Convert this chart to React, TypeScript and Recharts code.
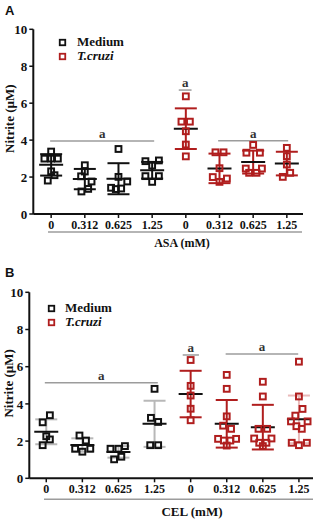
import React from 'react';
import { ScatterChart, Scatter, XAxis, YAxis, ErrorBar, ReferenceLine, Legend } from 'recharts';

const doseLabels = ['0', '0.312', '0.625', '1.25', '0', '0.312', '0.625', '1.25'];
const groupIdx = [0, 1, 2, 3, 4, 5, 6, 7];
const yTicks = [0, 2, 4, 6, 8, 10];

// ---- Panel A (ASA) ----
const aMediumValues = [
  [3.38, 3.0, 3.0, 3.0, 2.31, 2.1, 1.81],
  [2.64, 2.3, 2.04, 1.76, 1.36, 1.22],
  [3.52, 2.01, 1.76, 1.42, 1.35, 1.38],
  [2.86, 2.9, 2.62, 2.05, 2.05, 1.74],
];
const aMediumJitter = [
  [0, -1, 0, 1, 0, 0.5, -0.5],
  [0, 0, -0.55, 1, 0.5, -0.5],
  [0, 0, 1.3, -1.1, -0.4, 0.4],
  [-1, 1, 0, -1, 1, 0],
];
const aTcruziValues = [
  [6.37, 5.0, 5.0, 4.48, 3.76, 3.12],
  [3.34, 3.34, 2.48, 2.0, 1.92, 1.74],
  [3.74, 3.32, 3.32, 2.46, 2.46, 2.23, 2.23],
  [3.58, 3.13, 2.68, 2.23, 2.01],
];
const aTcruziJitter = [
  [0, -0.65, 0.6, 0, 0, 0],
  [-0.6, 0.6, 0, -1, 1.1, 0],
  [0, -1, 1, -1.1, 1.3, -0.6, 0.5],
  [0, 0, 0, 0.5, -0.6],
];
const aMeans = [2.66, 1.89, 1.91, 2.37, 4.62, 2.47, 2.81, 2.73];
const aSD = [0.58, 0.55, 0.84, 0.45, 1.1, 0.8, 0.62, 0.64];
const aBrackets = [
  { from: -0.03, to: 3.06, y: 3.95 },
  { from: 3.79, to: 4.17, y: 6.71 },
  { from: 4.96, to: 7.04, y: 3.97 },
];

// ---- Panel B (CEL) ----
const bMediumValues = [
  [3.39, 3.01, 2.26, 2.09, 1.78],
  [2.3, 2.03, 1.59, 1.59, 1.43],
  [1.59, 1.59, 1.73, 1.02, 1.16],
  [4.81, 3.25, 3.03, 1.78, 1.78],
];
const bMediumJitter = [
  [0.5, -0.5, 0, 0.5, -0.5],
  [-0.4, 0.5, -1, 1.1, 0],
  [-1.1, 0, 0.9, -0.6, 0.4],
  [0, -0.5, 0.5, -0.6, 0.5],
];
const bTcruziValues = [
  [6.36, 4.97, 4.45, 3.74, 3.12],
  [5.56, 4.81, 3.33, 2.83, 2.66, 2.12, 2.03, 2.03, 2.12, 1.76],
  [5.19, 4.4, 2.66, 2.66, 2.14, 2.14, 1.91, 1.91, 1.73],
  [6.27, 4.4, 3.73, 3.37, 3.06, 3.06, 2.8, 2.66, 1.91, 1.78, 1.91],
];
const bTcruziJitter = [
  [0, 0, 0, 0, 0],
  [0, 0, 0, -0.5, 0.6, -1.2, -0.4, 0.5, 1.3, 0],
  [0, 0, -0.6, 0.6, -1.2, 1.2, -0.5, 0.5, 0],
  [0, 0, 0.5, -0.5, -1.1, 1.2, -0.35, 0.4, -1, 0, 1.1],
];
const bMeans = [2.5, 1.79, 1.42, 2.93, 4.53, 2.93, 2.75, 3.17];
const bSD = [0.67, 0.36, 0.31, 1.24, 1.25, 1.28, 1.2, 1.28];
const bBrackets = [
  { from: -0.04, to: 3.09, y: 5.14 },
  { from: 3.78, to: 4.23, y: 6.63 },
  { from: 4.97, to: 6.98, y: 6.68 },
];

const legendItems = [
  { label: 'Medium', color: '#111111', italic: false },
  { label: 'T.cruzi', color: '#b01e1e', italic: true },
];

const SERIF = '"Liberation Serif", "Times New Roman", serif';
const BLACK = '#111111';
const RED = '#b01e1e';
const GRAY_BAR = '#b8b8b8';
const PINK_BAR = '#e9b9b9';
const BRACKET = '#9c9c9c';
const JITTER_UNIT = 0.2;

function buildPoints(values: number[][], jitter: number[][], firstGroup: number) {
  const out: { x: number; y: number }[] = [];
  values.forEach((grp, gi) => {
    grp.forEach((v, pi) => {
      out.push({ x: firstGroup + gi + jitter[gi][pi] * JITTER_UNIT, y: v });
    });
  });
  return out;
}

function buildMeans(means: number[], sds: number[], idxs: number[]) {
  return idxs.map((i) => ({ x: i, y: means[i], sd: sds[i] }));
}

const squareShape = (color: string) => (props: any) => {
  const { cx, cy } = props;
  if (cx == null || cy == null) return <g />;
  return (
    <rect x={cx - 2.9} y={cy - 2.9} width={5.8} height={5.8} fill="none" stroke={color} strokeWidth={2} />
  );
};

const meanShape = (props: any) => {
  const { cx, cy } = props;
  if (cx == null || cy == null) return <g />;
  return <line x1={cx - 12} x2={cx + 12} y1={cy} y2={cy} stroke={BLACK} strokeWidth={2} />;
};

type MeanGroup = { idxs: number[]; color: string };

type PanelCfg = {
  top: number;
  letter: string;
  margin: { top: number; right: number; bottom: number; left: number };
  yAxisWidth: number;
  xDomain: [number, number];
  title: string;
  titleSize: number;
  titleX: number;
  titleDy: number;
  lineDy: number;
  lineX1: number;
  lineX2: number;
  yLabelX: number;
  yLabelShift: number;
  legendLeft: number;
  legendTop: number;
  legendGap: number;
  medium: { x: number; y: number }[];
  tcruzi: { x: number; y: number }[];
  means: number[];
  sds: number[];
  meanGroups: MeanGroup[];
  brackets: { from: number; to: number; y: number }[];
};

function Panel({ cfg }: { cfg: PanelCfg }) {
  const renderLegend = () => (
    <div style={{ fontFamily: SERIF, fontWeight: 'bold', fontSize: 13, color: BLACK }}>
      {legendItems.map((it) => (
        <div key={it.label} style={{ display: 'flex', alignItems: 'center', height: 14 }}>
          <svg width={13} height={14} style={{ display: 'block' }}>
            <rect x={3.75} y={4.75} width={5.5} height={5.5} fill="none" stroke={it.color} strokeWidth={1.8} />
          </svg>
          <span style={{ marginLeft: cfg.legendGap, fontStyle: it.italic ? 'italic' : 'normal', lineHeight: '14px' }}>
            {it.label}
          </span>
        </div>
      ))}
    </div>
  );

  const titleContent = (p: any) => {
    const vb = p.viewBox || {};
    const y0 = vb.y ?? 0;
    return (
      <g>
        <line x1={cfg.lineX1} x2={cfg.lineX2} y1={y0 + cfg.lineDy} y2={y0 + cfg.lineDy} stroke={BRACKET} strokeWidth={1.5} />
        <text
          x={cfg.titleX}
          y={y0 + cfg.titleDy}
          textAnchor="middle"
          dominantBaseline="central"
          fontFamily={SERIF}
          fontWeight="bold"
          fontSize={cfg.titleSize}
          fill={BLACK}
        >
          {cfg.title}
        </text>
      </g>
    );
  };

  const yLabelContent = (p: any) => {
    const vb = p.viewBox || {};
    const cy = (vb.y ?? 0) + (vb.height ?? 0) / 2 + cfg.yLabelShift;
    return (
      <text
        x={cfg.yLabelX}
        y={cy}
        transform={`rotate(-90, ${cfg.yLabelX}, ${cy})`}
        textAnchor="middle"
        dominantBaseline="central"
        fontFamily={SERIF}
        fontWeight="bold"
        fontSize={13}
        fill={BLACK}
      >
        Nitrite (µM)
      </text>
    );
  };

  return (
    <div style={{ position: 'absolute', left: 0, top: cfg.top, width: 322, height: 260 }}>
      <div
        style={{
          position: 'absolute',
          left: 5,
          top: 3.5,
          fontFamily: '"Liberation Sans", Arial, sans-serif',
          fontWeight: 'bold',
          fontSize: 13,
          lineHeight: '13px',
          color: BLACK,
          zIndex: 2,
        }}
      >
        {cfg.letter}
      </div>
      <ScatterChart width={322} height={260} margin={cfg.margin}>
        <XAxis
          type="number"
          dataKey="x"
          domain={cfg.xDomain}
          ticks={groupIdx}
          interval={0}
          allowDataOverflow
          tickFormatter={(v: number) => doseLabels[v]}
          tickSize={4}
          tick={{ fontFamily: SERIF, fontWeight: 'bold', fontSize: 12, fill: BLACK }}
          axisLine={{ stroke: BLACK, strokeWidth: 2 }}
          tickLine={{ stroke: BLACK, strokeWidth: 1.5 }}
          height={40}
          label={{ content: titleContent }}
        />
        <YAxis
          type="number"
          dataKey="y"
          domain={[0, 10]}
          ticks={yTicks}
          interval={0}
          allowDataOverflow
          width={cfg.yAxisWidth}
          tickSize={4}
          tick={{ fontFamily: SERIF, fontWeight: 'bold', fontSize: 13, fill: BLACK }}
          axisLine={{ stroke: BLACK, strokeWidth: 2 }}
          tickLine={{ stroke: BLACK, strokeWidth: 1.5 }}
          label={{ content: yLabelContent }}
        />
        <Legend
          layout="vertical"
          align="center"
          verticalAlign="middle"
          content={renderLegend}
          wrapperStyle={{ left: cfg.legendLeft, top: cfg.legendTop, width: 120 }}
        />
        {cfg.brackets.map((b, i) => (
          <ReferenceLine
            key={'br' + i}
            segment={[
              { x: b.from, y: b.y },
              { x: b.to, y: b.y },
            ]}
            stroke={BRACKET}
            strokeWidth={1.5}
            ifOverflow="visible"
            label={{ value: 'a', position: 'top', offset: 3, fill: '#333', fontFamily: SERIF, fontWeight: 'bold', fontSize: 13 }}
          />
        ))}
        {cfg.meanGroups.map((mg, i) => (
          <Scatter
            key={'mean' + i}
            data={buildMeans(cfg.means, cfg.sds, mg.idxs)}
            shape={meanShape}
            isAnimationActive={false}
          >
            <ErrorBar dataKey="sd" direction="y" width={11} stroke={mg.color} strokeWidth={2} isAnimationActive={false} />
          </Scatter>
        ))}
        <Scatter data={cfg.medium} shape={squareShape(BLACK)} isAnimationActive={false} />
        <Scatter data={cfg.tcruzi} shape={squareShape(RED)} isAnimationActive={false} />
      </ScatterChart>
    </div>
  );
}

const panelA: PanelCfg = {
  top: 0,
  letter: 'A',
  margin: { top: 29.3, right: 19, bottom: 6, left: 0 },
  yAxisWidth: 33.3,
  xDomain: [-0.53, 7.48],
  title: 'ASA (mM)',
  titleSize: 12,
  titleX: 182,
  titleDy: 29,
  lineDy: 18,
  lineX1: 48,
  lineX2: 302,
  yLabelX: 10,
  yLabelShift: -3,
  legendLeft: 56,
  legendTop: 35,
  legendGap: 8,
  medium: buildPoints(aMediumValues, aMediumJitter, 0),
  tcruzi: buildPoints(aTcruziValues, aTcruziJitter, 4),
  means: aMeans,
  sds: aSD,
  meanGroups: [
    { idxs: [0, 1, 2, 3], color: BLACK },
    { idxs: [4, 5, 6, 7], color: RED },
  ],
  brackets: aBrackets,
};

const panelB: PanelCfg = {
  top: 262,
  letter: 'B',
  margin: { top: 30.3, right: 9, bottom: 3.7, left: 0 },
  yAxisWidth: 29.3,
  xDomain: [-0.47, 7.39],
  title: 'CEL (mM)',
  titleSize: 13,
  titleX: 192,
  titleDy: 33.4,
  lineDy: 21,
  lineX1: 44,
  lineX2: 313,
  yLabelX: 8.5,
  yLabelShift: -2,
  legendLeft: 45,
  legendTop: 38.7,
  legendGap: 7,
  medium: buildPoints(bMediumValues, bMediumJitter, 0),
  tcruzi: buildPoints(bTcruziValues, bTcruziJitter, 4),
  means: bMeans,
  sds: bSD,
  meanGroups: [
    { idxs: [0, 1, 2, 3], color: GRAY_BAR },
    { idxs: [4, 5, 6], color: RED },
    { idxs: [7], color: PINK_BAR },
  ],
  brackets: bBrackets,
};

export default function App() {
  return (
    <div style={{ position: 'absolute', left: 0, top: 0, width: 322, height: 522, background: '#fff' }}>
      <Panel cfg={panelA} />
      <Panel cfg={panelB} />
    </div>
  );
}
